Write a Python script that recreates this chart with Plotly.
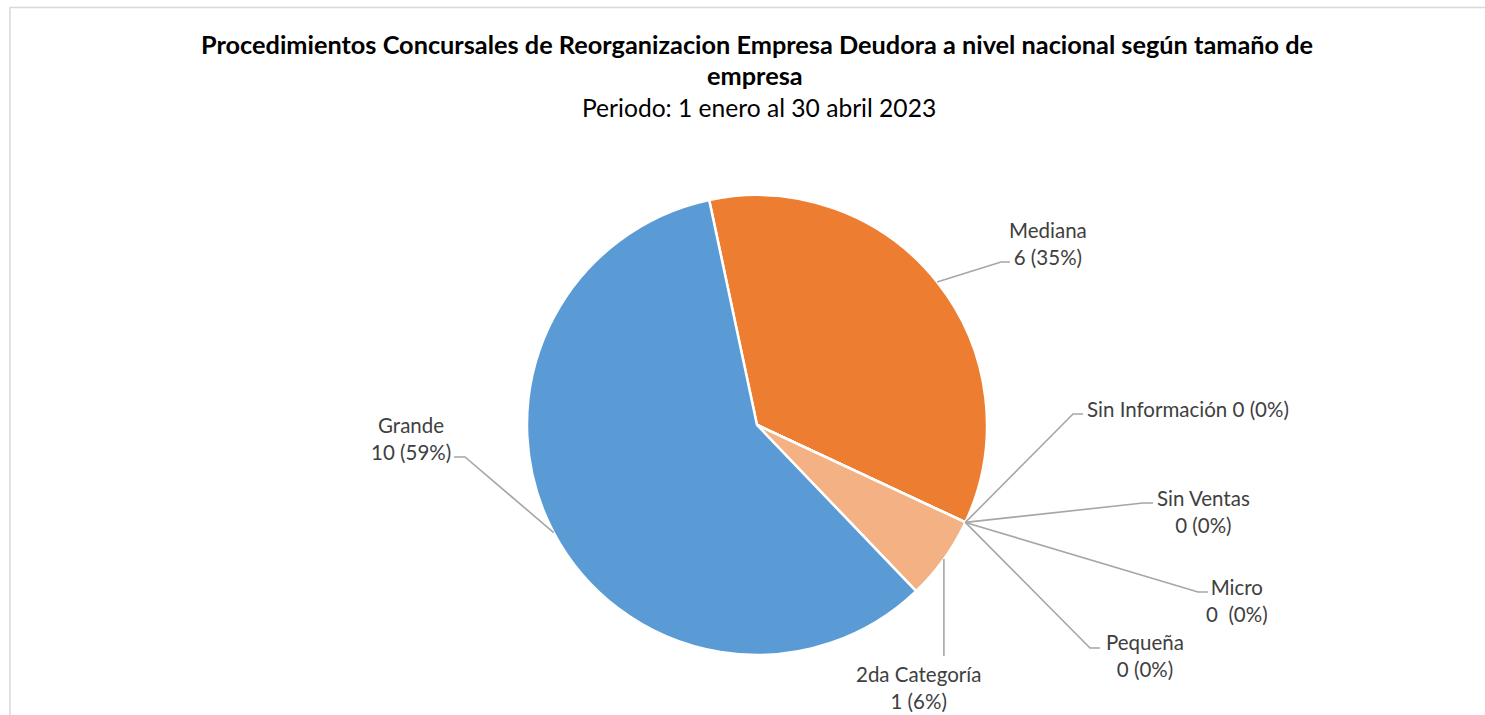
import math
import plotly.graph_objects as go

# ---- data ----
categories = ["Mediana", "Sin Información", "Sin Ventas", "Micro", "Pequeña", "2da Categoría", "Grande"]
values = [6, 0, 0, 0, 0, 1, 10]
percent_labels = ["35%", "0%", "0%", "0%", "0%", "6%", "59%"]
value_labels = ["6", "0", "0", "0\u00a0", "0", "1", "10"]
label_sep = ["<br>", " ", "<br>", "<br>", "<br>", "<br>", "<br>"]
colors = ["#ED7D31", "#A5A5A5", "#FFC000", "#4472C4", "#70AD47", "#F4B183", "#5B9BD5"]

title_line1 = "Procedimientos Concursales de Reorganizacion Empresa Deudora a nivel nacional según tamaño de"
title_line2 = "empresa"
title_line3 = "Periodo: 1 enero al 30 abril 2023"

# ---- layout constants (pixels) ----
W, H = 1485, 715
CX, CY, R = 757, 425, 230
ROTATION = -12

# label block centres and leader elbows (pixels)
label_pos = [(1048, 243), (1188, 409), (1203, 511), (1237, 600), (1145, 655), (918, 687), (411, 438)]
elbows = [
    [(1001, 262), (1010, 262)],
    [(1073, 414), (1083, 414)],
    [(1143, 503), (1153, 503)],
    [(1198, 592), (1208, 592)],
    [(1090, 648), (1100, 648)],
    [None, (None, 656)],
    [(465, 457), (454, 457)],
]

def px(x):
    return x / W

def py(y):
    return 1 - y / H

fig = go.Figure()
fig.add_trace(go.Pie(
    labels=categories,
    values=values,
    sort=False,
    direction="clockwise",
    rotation=ROTATION,
    marker=dict(colors=colors, line=dict(color="white", width=2.5)),
    textinfo="none",
    hoverinfo="label+value+percent",
    showlegend=False,
    domain=dict(x=[px(CX - R), px(CX + R)], y=[py(CY + R), py(CY - R)]),
))

# leader lines computed from slice mid angles
total = sum(values)
shapes = []
annotations = []
cum = 0
for i, (cat, v) in enumerate(zip(categories, values)):
    mid = ROTATION + 360 * (cum + v / 2) / total
    cum += v
    a = math.radians(mid)
    ex = CX + R * math.sin(a)
    ey = CY - R * math.cos(a)
    pts = [(ex, ey)]
    for e in elbows[i]:
        if e is None:
            continue
        x, y = e
        if x is None:
            x = ex
        pts.append((x, y))
    path = "M " + " L ".join(f"{px(x)},{py(y)}" for x, y in pts)
    shapes.append(dict(type="path", xref="paper", yref="paper", path=path,
                       line=dict(color="#A6A6A6", width=1.6)))
    text = f"{cat}{label_sep[i]}{value_labels[i]} ({percent_labels[i]})"
    lx, ly = label_pos[i]
    annotations.append(dict(
        text=text, x=px(lx), y=py(ly), xref="paper", yref="paper",
        xanchor="center", yanchor="middle", align="center", showarrow=False,
        font=dict(family="Lato", size=20.5, color="#404040"),
    ))

# titles
annotations.append(dict(text=f"<b>{title_line1}</b>", x=px(757), y=py(44), xref="paper", yref="paper",
                        xanchor="center", yanchor="middle", showarrow=False,
                        font=dict(family="Lato", size=25.3, color="#000000")))
annotations.append(dict(text=f"<b>{title_line2}</b>", x=px(755), y=py(75), xref="paper", yref="paper",
                        xanchor="center", yanchor="middle", showarrow=False,
                        font=dict(family="Lato", size=25.3, color="#000000")))
annotations.append(dict(text=title_line3, x=px(759), y=py(108), xref="paper", yref="paper",
                        xanchor="center", yanchor="middle", showarrow=False,
                        font=dict(family="Lato", size=24.6, color="#000000")))

# chart border (top and left visible)
shapes.append(dict(type="rect", xref="paper", yref="paper",
                   x0=px(10), x1=1.02, y0=-0.02, y1=py(7.5),
                   line=dict(color="#D9D9D9", width=1.5), fillcolor="rgba(0,0,0,0)"))

fig.update_layout(
    width=W, height=H,
    margin=dict(l=0, r=0, t=0, b=0),
    paper_bgcolor="white", plot_bgcolor="white",
    shapes=shapes, annotations=annotations,
)

fig.write_html("out.html", config={"displayModeBar": False},
               post_script="document.body.style.margin='0';document.body.style.overflow='hidden';")
